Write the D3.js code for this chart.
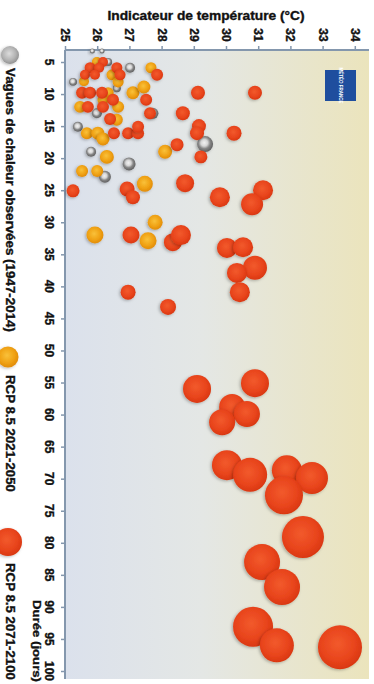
<!DOCTYPE html>
<html><head><meta charset="utf-8">
<script src="https://cdn.jsdelivr.net/npm/d3@7"></script>
<style>
body{margin:0;background:#fff}
svg{display:block}
text{font-family:"Liberation Sans",Arial,sans-serif;font-weight:bold;fill:#111;stroke:#111;stroke-width:0.35px}
</style>
</head><body><svg id="c" width="374" height="684"></svg>
<script>
// ---- data ----
const tempTicks = [25,26,27,28,29,30,31,32,33,34];
const dureeTicks = [5,10,15,20,25,30,35,40,45,50,55,60,65,70,75,80,85,90,95,100];
const seriesNames = ["Vagues de chaleur observées (1947-2014)","RCP 8.5 2021-2050","RCP 8.5 2071-2100"];
// [température (°C), durée (jours), sévérité]
const observees = [[25.85,3.3,1.3],[26.15,3.3,1.3],[26.34,5.0,3.3],[25.25,8.1,3.3],[27.02,5.9,5.2],[26.61,9.1,3.3],[25.99,13.0,5.2],[27.73,13.0,6.3],[25.40,15.1,5.2],[25.81,19.0,5.2],[26.99,20.9,8.7],[26.24,22.9,7.4],[29.35,17.8,13.2]];
const rcp2050 = [[25.99,5.0,5.2],[25.59,8.0,5.2],[26.46,7.0,6.3],[26.65,8.1,6.3],[27.67,5.9,6.3],[26.34,9.8,6.3],[27.11,9.8,8.7],[27.45,8.9,8.7],[26.18,10.9,6.3],[25.47,12.0,7.4],[26.65,12.0,7.4],[26.61,14.0,7.4],[25.68,16.1,7.4],[26.02,16.1,8.7],[26.18,17.0,8.7],[26.30,19.8,10.1],[25.53,22.0,7.4],[26.00,22.0,7.4],[27.48,24.0,13.2],[28.11,19.0,10.1],[27.80,30.0,11.6],[25.93,32.0,14.9],[27.58,32.9,14.9]];
const rcp2100 = [[26.18,5.0,5.2],[25.78,5.9,6.3],[26.06,5.9,5.2],[25.62,7.0,5.2],[25.93,7.0,5.2],[26.61,5.9,6.3],[26.71,7.0,6.3],[27.86,7.0,7.4],[25.53,9.8,7.4],[25.78,9.8,7.4],[26.15,9.8,7.4],[26.49,10.9,7.4],[27.52,10.9,7.4],[25.71,12.0,7.4],[26.18,12.0,7.4],[26.40,13.9,7.4],[27.64,13.0,7.4],[26.52,16.1,7.4],[26.96,16.1,7.4],[27.27,16.1,7.4],[27.27,15.1,7.4],[28.66,13.0,10.1],[29.13,9.8,10.1],[30.90,9.8,10.1],[29.16,15.0,10.1],[29.10,16.1,10.1],[30.25,16.1,11.6],[28.48,17.9,8.7],[29.22,19.8,8.7],[25.25,25.1,8.7],[26.93,24.8,11.6],[27.11,26.1,10.1],[28.73,23.9,16.7],[29.81,26.1,20.7],[31.15,25.0,20.7],[30.81,27.2,25.0],[27.05,32.0,14.9],[28.35,33.1,16.7],[28.60,32.0,20.7],[26.96,40.9,11.6],[28.20,43.2,13.2],[30.03,34.0,20.7],[30.53,33.9,20.7],[30.90,37.1,29.8],[30.34,37.9,20.7],[30.43,40.9,20.7],[29.10,56.0,40.5],[30.90,55.1,40.5],[30.19,58.8,34.9],[30.65,59.9,34.9],[29.88,61.2,34.9],[30.03,67.9,46.5],[30.75,69.4,59.7],[31.89,68.7,46.5],[32.67,69.9,52.9],[31.80,72.6,74.6],[32.39,79.1,91.1],[31.12,83.0,66.9],[31.74,86.9,66.9],[30.84,93.1,82.6],[31.58,96.0,59.7],[33.54,96.3,100]];

// ---- chart ----
const svg = d3.select("#c");
const x = d3.scaleLinear().domain([25,34]).range([65,354.8]);
const y = d3.scaleLinear().domain([5,100]).range([62,671]);
const r = d3.scaleSqrt().domain([0,100]).range([0,22]);
const plot = {x0:65, x1:369, y0:50, y1:679};

const defs = svg.append("defs");
const bg = defs.append("linearGradient").attr("id","bg").attr("x1",0).attr("x2",1).attr("y1",0).attr("y2",0);
bg.append("stop").attr("offset","0%").attr("stop-color","#dbe1ec");
bg.append("stop").attr("offset","45%").attr("stop-color","#e4e7e5");
bg.append("stop").attr("offset","100%").attr("stop-color","#ebe4bc");

function radial(id, stops){
  const g = defs.append("radialGradient").attr("id",id).attr("cx","45%").attr("cy","42%").attr("r","60%");
  stops.forEach(s=>g.append("stop").attr("offset",s[0]).attr("stop-color",s[1]));
}
radial("gGrey",[["0%","#f2f2f2"],["35%","#d6d6d6"],["62%","#858585"],["100%","#5c5c5c"]]);
radial("gGreyL",[["0%","#dcdcdc"],["60%","#b4b4b4"],["100%","#8e8e8e"]]);
radial("gOrange",[["0%","#f9c13a"],["60%","#f0a214"],["100%","#e08a08"]]);
radial("gRed",[["0%","#f25a2c"],["65%","#e8441c"],["100%","#d8360f"]]);

const sh = defs.append("filter").attr("id","sh").attr("x","-50%").attr("y","-50%").attr("width","200%").attr("height","200%");
sh.append("feDropShadow").attr("dx",-1.2).attr("dy",1).attr("stdDeviation",1.4).attr("flood-color","#000").attr("flood-opacity",0.28);

svg.append("rect").attr("x",plot.x0).attr("y",plot.y0).attr("width",plot.x1-plot.x0).attr("height",plot.y1-plot.y0).attr("fill","url(#bg)");

// axes
const axCol = "#8497ad";
const gx = svg.append("g").attr("transform",`translate(0,${plot.y0})`)
  .call(d3.axisTop(x).tickValues(tempTicks).tickSize(4).tickFormat(""));
gx.select(".domain").attr("d",`M${plot.x0},0H${plot.x1}`);
const gy = svg.append("g").attr("transform",`translate(${plot.x0},0)`)
  .call(d3.axisLeft(y).tickValues(dureeTicks).tickSize(4).tickFormat(""));
gy.select(".domain").attr("d",`M0,${plot.y0}V${plot.y1}`);
svg.selectAll(".domain").attr("stroke",axCol).attr("stroke-width",2);
svg.selectAll(".tick line").attr("stroke",axCol).attr("stroke-width",1.5);

// tick labels (rotated)
svg.append("g").selectAll("text").data(tempTicks).join("text")
  .attr("transform",d=>`translate(${x(d)},35) rotate(90)`)
  .attr("text-anchor","middle").attr("dominant-baseline","central")
  .attr("font-size",12).text(d=>d);
svg.append("g").selectAll("text").data(dureeTicks).join("text")
  .attr("transform",d=>`translate(49,${y(d)}) rotate(90)`)
  .attr("text-anchor","middle").attr("dominant-baseline","central")
  .attr("font-size",12).text(d=>d);

// titles
svg.append("text").attr("x",206).attr("y",16).attr("text-anchor","middle").attr("dominant-baseline","central")
  .attr("font-size",12.5).attr("textLength",197).attr("lengthAdjust","spacingAndGlyphs")
  .text("Indicateur de température (°C)");
svg.append("text").attr("transform","translate(37,641) rotate(90)").attr("text-anchor","middle").attr("dominant-baseline","central")
  .attr("font-size",11.5).attr("textLength",82).attr("lengthAdjust","spacingAndGlyphs").text("Durée (jours)");

// logo
svg.append("rect").attr("x",325).attr("y",70).attr("width",31).attr("height",31).attr("fill","#1f4e9e");
svg.append("text").attr("transform","translate(340.5,85.5) rotate(90)").attr("text-anchor","middle").attr("dominant-baseline","central")
  .attr("font-size",4.5).style("fill","#fff").style("stroke","none").text("MÉTÉO FRANCE");

// bubbles
const layers = [[observees,"gGrey"],[rcp2050,"gOrange"],[rcp2100,"gRed"]];
layers.forEach(([data,grad])=>{
  svg.append("g").selectAll("circle").data(data).join("circle")
    .attr("cx",d=>x(d[0])).attr("cy",d=>y(d[1])).attr("r",d=>r(d[2]))
    .attr("fill",`url(#${grad})`).attr("filter","url(#sh)");
});

// legend
const legend = [
  {name:seriesNames[0], grad:"gGreyL", cx:10, cy:55, rr:9, ty:68, len:264},
  {name:seriesNames[1], grad:"gOrange", cx:8, cy:357, rr:10.5, ty:375, len:117},
  {name:seriesNames[2], grad:"gRed", cx:8, cy:542, rr:14, ty:563, len:117}
];
legend.forEach(l=>{
  svg.append("circle").attr("cx",l.cx).attr("cy",l.cy).attr("r",l.rr).attr("fill",`url(#${l.grad})`).attr("filter","url(#sh)");
  svg.append("text").attr("transform",`translate(10,${l.ty}) rotate(90)`).attr("dominant-baseline","central")
    .attr("font-size",12).attr("textLength",l.len).attr("lengthAdjust","spacingAndGlyphs").text(l.name);
});
</script>
</body></html>
